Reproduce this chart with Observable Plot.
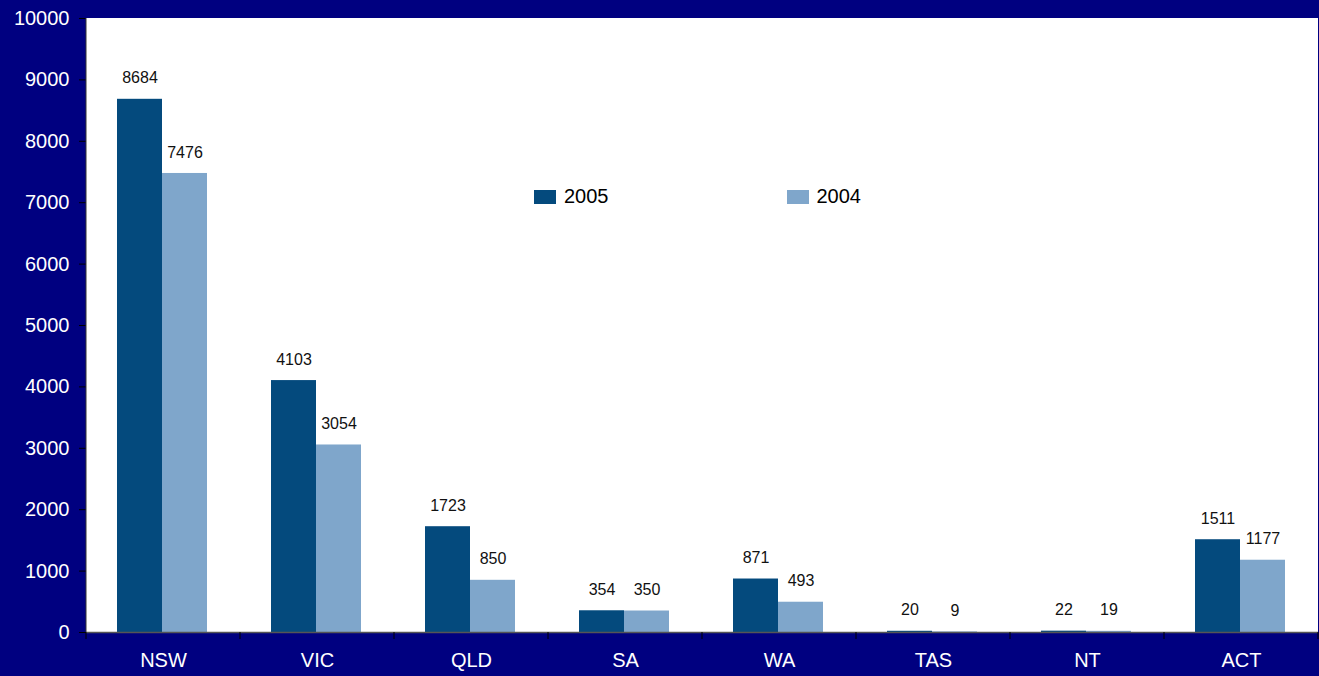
<!DOCTYPE html>
<html><head><meta charset="utf-8">
<script src="https://cdn.jsdelivr.net/npm/d3@7"></script>
<script src="https://cdn.jsdelivr.net/npm/@observablehq/plot@0.6"></script>
<style>
html,body{margin:0;padding:0;background:#000080;overflow:hidden;}
#wrap{position:relative;width:1319px;height:676px;}
#legend{position:absolute;left:534px;top:185px;font-family:"Liberation Sans",Arial,sans-serif;font-size:20px;color:#000;display:flex;}
#legend .item{display:flex;align-items:center;}
#legend .sw{width:22px;height:14px;margin-right:8px;}
</style>
</head><body>
<div id="wrap"><div id="chart"></div><div id="legend"></div></div>
<script>
const states = ["NSW","VIC","QLD","SA","WA","TAS","NT","ACT"];
const years = ["2005","2004"];
const values2005 = [8684,4103,1723,354,871,20,22,1511];
const values2004 = [7476,3054,850,350,493,9,19,1177];
const yTicks = [0,1000,2000,3000,4000,5000,6000,7000,8000,9000,10000];
const colors = ["#044A7D","#7FA6CB"];

const data = [];
states.forEach((s,i)=>{
  data.push({state:s, year:"2005", value:values2005[i]});
  data.push({state:s, year:"2004", value:values2004[i]});
});

const plot = Plot.plot({
  width:1319, height:676,
  marginLeft:85, marginRight:0, marginTop:18, marginBottom:44,
  style:{background:"#000080", fontFamily:"'Liberation Sans', Arial, sans-serif", overflow:"visible"},
  fx:{domain:states, padding:0, label:null, axis:null},
  x:{domain:years, paddingInner:0, paddingOuter:0.71, align:0.48, axis:null},
  y:{domain:[0,10000], axis:null, label:null},
  color:{domain:years, range:colors},
  marks:[
    Plot.barY(data,{fx:"state", x:"year", y:"value", fill:"year"}),
    Plot.text(data,{fx:"state", x:"year", y:"value", text:d=>String(d.value), dy:-21, fontSize:16, fill:"#111"}),
    Plot.ruleY([0],{stroke:"#555", strokeWidth:1.5}),
    Plot.axisY({ticks:yTicks, tickSize:7, tickPadding:10, fontSize:20, fill:"white", stroke:"black", tickFormat:d=>String(d), label:null}),
    Plot.axisFx({anchor:"bottom", tickSize:0, tickPadding:20, fontSize:20, fill:"white", label:null})
  ]
});
document.getElementById("chart").appendChild(plot);

const svg = d3.select(plot);
const fx = plot.scale("fx");
const ys = plot.scale("y");
const yTop = Math.min(...ys.range), yBot = Math.max(...ys.range);
const xLeft = fx.apply(states[0]);
const xRight = fx.apply(states[states.length-1]) + fx.bandwidth;
// white plot area behind all marks
svg.insert("rect", ":first-child")
  .attr("x", xLeft).attr("y", yTop).attr("width", xRight - xLeft).attr("height", yBot - yTop)
  .attr("fill", "white");
svg.select("rect").lower();
// navy background rect lowest
svg.insert("rect", ":first-child").attr("width",1319).attr("height",676).attr("fill","#000080");

// category boundary tick marks and left axis line
const edges = states.map(s=>fx.apply(s));
edges.push(xRight);
svg.append("g").selectAll("line").data(edges).join("line")
  .attr("x1",d=>d).attr("x2",d=>d).attr("y1",yBot).attr("y2",yBot+7)
  .attr("stroke","black");
svg.append("line").attr("x1",xLeft).attr("x2",xLeft).attr("y1",yTop).attr("y2",yBot).attr("stroke","#333");

const lg = d3.select("#legend");
years.forEach((yr,i)=>{
  const it = lg.append("div").attr("class","item").style("margin-right", i===0 ? "178px" : "0");
  it.append("div").attr("class","sw").style("background",colors[i]);
  it.append("span").text(yr);
});
</script>
</body></html>
